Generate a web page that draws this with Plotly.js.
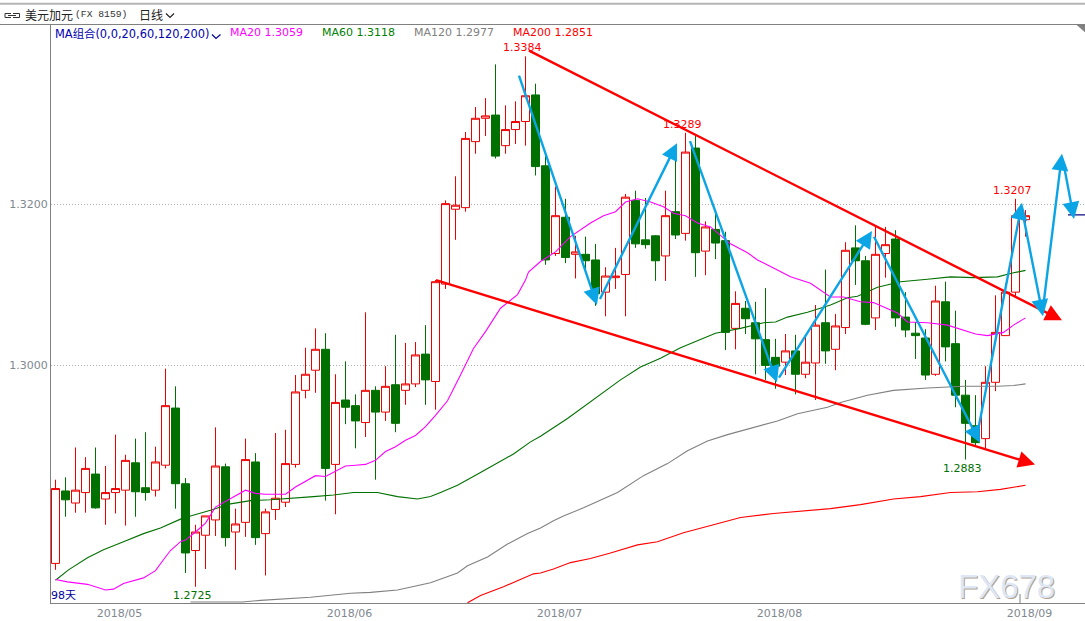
<!DOCTYPE html>
<html>
<head>
<meta charset="utf-8">
<script src="https://cdn.plot.ly/plotly-3.0.1.min.js"></script>
<style>html,body{margin:0;padding:0;background:#fff;overflow:hidden}</style>
</head>
<body>
<div id="chart" style="width:1085px;height:621px"></div>
<script>
// ---- daily bars: USD/CAD, 98 sessions
var opens = [1.2754,1.2844,1.2829,1.2842,1.2865,1.2834,1.2842,1.2845,1.2879,1.2848,1.2845,1.2876,1.2947,1.2853,1.2770,1.2789,1.2808,1.2874,1.2793,1.2805,1.2880,1.2791,1.2821,1.2830,1.2877,1.2969,1.2994,1.3020,1.2877,1.2957,1.2950,1.2929,1.2969,1.2942,1.2976,1.2969,1.2977,1.3014,1.2980,1.3101,1.3194,1.3196,1.3278,1.3307,1.3311,1.3273,1.3293,1.3303,1.3336,1.3248,1.3139,1.3184,1.3138,1.3138,1.3131,1.3091,1.3109,1.3113,1.3205,1.3156,1.3161,1.3136,1.3191,1.3164,1.3270,1.3142,1.3169,1.3155,1.3046,1.3071,1.3053,1.3032,1.3010,1.3004,1.3018,1.2989,1.3003,1.3053,1.3020,1.3047,1.3146,1.3130,1.3059,1.3139,1.3157,1.3060,1.3040,1.3034,1.2989,1.3079,1.3027,1.2963,1.2925,1.2909,1.2979,1.3037,1.3091,1.3181];
var highs = [1.2858,1.2861,1.2898,1.2886,1.2898,1.2875,1.2914,1.2889,1.2909,1.2917,1.2899,1.2996,1.2974,1.2860,1.2802,1.2813,1.2923,1.2878,1.2822,1.2909,1.2891,1.2822,1.2916,1.2920,1.2988,1.3022,1.3046,1.3040,1.2989,1.3005,1.2964,1.3066,1.2974,1.2999,1.3038,1.3028,1.3029,1.3050,1.3106,1.3205,1.3235,1.3290,1.3321,1.3332,1.3374,1.3323,1.3328,1.3384,1.3350,1.3261,1.3222,1.3207,1.3161,1.3160,1.3151,1.3122,1.3146,1.3213,1.3217,1.3208,1.3162,1.3217,1.3258,1.3289,1.3285,1.3179,1.3193,1.3166,1.3092,1.3080,1.3079,1.3096,1.3033,1.3039,1.3038,1.3038,1.3075,1.3119,1.3064,1.3153,1.3174,1.3136,1.3173,1.3172,1.3168,1.3091,1.3054,1.3045,1.3099,1.3104,1.3068,1.2982,1.2963,1.2999,1.3087,1.3102,1.3207,1.3193];
var lows = [1.2746,1.2812,1.2817,1.2817,1.2822,1.2802,1.2816,1.2801,1.2812,1.2832,1.2837,1.2872,1.2822,1.2742,1.2725,1.2747,1.2788,1.2775,1.2746,1.2787,1.2777,1.2739,1.2808,1.2824,1.2873,1.2959,1.2966,1.2832,1.2815,1.2927,1.2897,1.2911,1.2858,1.2931,1.2917,1.2951,1.2973,1.2951,1.2945,1.3095,1.3156,1.3191,1.3263,1.3285,1.3257,1.3263,1.3275,1.3273,1.3236,1.3125,1.3136,1.3127,1.3108,1.3116,1.3074,1.3061,1.3095,1.3061,1.3146,1.3145,1.3105,1.3105,1.3157,1.3155,1.3110,1.3112,1.3132,1.3019,1.3020,1.3039,1.2989,1.2982,1.2971,1.2988,1.2964,1.2984,1.2957,1.3002,1.2994,1.3039,1.3100,1.3050,1.3044,1.3109,1.3048,1.3035,1.3008,1.2982,1.2987,1.3005,1.2948,1.2883,1.2899,1.2897,1.2968,1.3037,1.3085,1.3160];
var closes = [1.2847,1.2833,1.2845,1.2872,1.2823,1.2842,1.2847,1.2882,1.2843,1.2842,1.2880,1.2950,1.2853,1.2767,1.2793,1.2813,1.2875,1.2786,1.2803,1.2883,1.2786,1.2818,1.2835,1.2878,1.2967,1.2989,1.3020,1.2872,1.2954,1.2948,1.2931,1.2969,1.2942,1.2974,1.2928,1.2977,1.3013,1.2982,1.3104,1.3201,1.3199,1.3282,1.3307,1.3310,1.3260,1.3293,1.3303,1.3335,1.3247,1.3131,1.3186,1.3134,1.3141,1.3130,1.3089,1.3111,1.3111,1.3209,1.3151,1.3150,1.3130,1.3186,1.3162,1.3265,1.3140,1.3172,1.3152,1.3041,1.3077,1.3058,1.3033,1.3000,1.2999,1.3018,1.2989,1.3004,1.3050,1.3018,1.3049,1.3143,1.3130,1.3051,1.3138,1.3150,1.3059,1.3044,1.3037,1.2988,1.3080,1.3023,1.2963,1.2928,1.2904,1.2979,1.3041,1.3091,1.3186,1.3186];

// ---- moving averages at bar positions
var ma20Bars = [0,1.2,3.2,5,5.8,6.8,8.8,10,11,11.5,12.5,13,14,15,16,17,18,19,20,21,22,23,24,25,26,27,28,29,30,31,32,33,34,35,36,37,38,39.2,40.5,41.8,43,44.5,46.2,47,47.3,48.5,50,51.5,53.5,54.8,56,57,58.2,59.5,60.8,61.8,63,64.2,65.5,66.7,67.5,69.2,70.2,71.8,73.5,75.5,76.5,77.5,78.8,80.5,81.8,82.8,84.2,85.2,87.2,89.2,90.8,92,93.2,94.8,95.8,97];
var ma20Vals = [1.2734,1.2731,1.2728,1.2721,1.2722,1.2729,1.2736,1.2745,1.2762,1.2770,1.2781,1.2783,1.2793,1.2804,1.2824,1.2831,1.2838,1.2845,1.2841,1.2840,1.2840,1.2840,1.2849,1.2856,1.2863,1.2862,1.2868,1.2875,1.2876,1.2877,1.2882,1.2893,1.2899,1.2907,1.2913,1.2924,1.2938,1.2956,1.2988,1.3021,1.3042,1.3071,1.3088,1.3106,1.3116,1.3129,1.3141,1.3160,1.3177,1.3186,1.3191,1.3203,1.3207,1.3203,1.3197,1.3189,1.3186,1.3177,1.3172,1.3160,1.3151,1.3140,1.3131,1.3121,1.3110,1.3102,1.3094,1.3085,1.3085,1.3079,1.3078,1.3073,1.3065,1.3054,1.3053,1.3050,1.3044,1.3039,1.3037,1.3041,1.3050,1.3059];
var ma60Bars = [0,1.3,3.2,4.8,6.8,8.8,10.5,11.5,12.5,13.5,15.5,17.5,19.5,21.5,24.2,25.8,27.8,29.8,32.2,34.2,36.2,37.5,38.5,40.2,42.5,45.8,47.5,48.5,51.2,53.8,56.5,58.5,60.5,62.5,64.5,66,68.5,70.8,72,73.2,75.2,77.5,79.2,80.2,82.2,84.5,87.2,89.5,91.8,94.2,95.8,97];
var ma60Vals = [1.2733,1.2746,1.2761,1.2771,1.2781,1.2791,1.2798,1.2804,1.2809,1.2813,1.2820,1.2828,1.2832,1.2833,1.2835,1.2837,1.2839,1.2842,1.2842,1.2837,1.2834,1.2837,1.2842,1.2851,1.2867,1.2890,1.2905,1.2912,1.2934,1.2957,1.2982,1.2998,1.3009,1.3022,1.3032,1.3040,1.3046,1.3053,1.3054,1.3060,1.3066,1.3075,1.3084,1.3086,1.3097,1.3104,1.3107,1.3110,1.3109,1.3110,1.3115,1.3118];
var ma120Bars = [13.5,18.7,20.5,23.5,25.5,29.5,31.5,34.2,37.5,40.2,41.2,43.2,45.2,47.2,48.5,49.8,50.8,52.8,56.2,58.8,61.2,63.2,65.2,67.2,69.8,72.2,74.2,77.2,78.5,81.2,83.8,87.2,90.8,94.2,95.8,97];
var ma120Vals = [1.2706,1.2706,1.2708,1.2710,1.2712,1.2717,1.2718,1.2721,1.2730,1.2742,1.2751,1.2762,1.2778,1.2791,1.2798,1.2807,1.2813,1.2823,1.2842,1.2863,1.2878,1.2894,1.2906,1.2914,1.2923,1.2931,1.2940,1.2948,1.2954,1.2963,1.2969,1.2972,1.2974,1.2974,1.2975,1.2977];
var ma200Bars = [41.2,42.5,44.8,47.8,48.5,49.8,51.5,53.5,55.5,58.2,60.2,62.8,65.8,68.5,71.8,74.5,77.5,80.5,83.8,86.5,89.5,92.2,94.5,97];
var ma200Vals = [1.2705,1.2714,1.2725,1.2741,1.2742,1.2747,1.2755,1.2760,1.2767,1.2777,1.2781,1.2792,1.2802,1.2811,1.2816,1.2819,1.2822,1.2827,1.2834,1.2837,1.2842,1.2843,1.2846,1.2851];

// ---- hand-drawn trend arrows on the original chart (bar position, price)
var blueFromBar = [46.05,54.15,63.15,72.05,81.55,92.05,96.55,98.65,100.65];
var blueFromVal = [1.3371,1.3075,1.3289,1.2979,1.3167,1.2906,1.3200,1.3061,1.3261];
var blueToBar   = [54.15,62.15,72.15,81.65,92.45,96.65,98.75,100.65,101.85];
var blueToVal   = [1.3075,1.3276,1.2979,1.3167,1.2904,1.3202,1.3061,1.3263,1.3182];
var redFromBar = [47.05,37.75];
var redFromVal = [1.3393,1.3107];
var redToBar   = [100.65,97.95];
var redToVal   = [1.3056,1.2877];

// ---- labels
var yTickVals = [1.30,1.32];
var monthBars = [6.4,29.4,50.4,72.4,97.4];
var monthLabels = ['2018/05','2018/06','2018/07','2018/08','2018/09'];
var extremeBars = [47,63,96,14,91];
var extremeVals = [1.3384,1.3289,1.3207,1.2725,1.2883];
var lastPrice = 1.3187;

var W = 1085, H = 621, L = 51, T = 25, R = 0, B = 18;
var UI = 'DejaVu Sans', CJK = '"Noto Sans CJK SC"';
function px(x){ return (x - L) / (W - L - R); }
function py(y){ return 1 - (y - T) / (H - T - B); }

var bars = opens.map(function(_, i){ return i; });

var traces = [
  {type:'scatter', mode:'lines', x:ma200Bars, y:ma200Vals, line:{color:'#ff0000', width:1.1}},
  {type:'scatter', mode:'lines', x:ma120Bars, y:ma120Vals, line:{color:'#808080', width:1.1}},
  {type:'scatter', mode:'lines', x:ma60Bars,  y:ma60Vals,  line:{color:'#007000', width:1.1}},
  {type:'candlestick', x:bars, open:opens, high:highs, low:lows, close:closes, whiskerwidth:0,
   increasing:{line:{color:'#ee0000', width:1}, fillcolor:'#ffffff'},
   decreasing:{line:{color:'#007000', width:1}, fillcolor:'#007000'}},
  {type:'scatter', mode:'lines', x:ma20Bars,  y:ma20Vals,  line:{color:'#ff00ff', width:1.1}},
  {type:'scatter', mode:'lines', x:[101.25,103], y:[lastPrice,lastPrice], line:{color:'#000080', width:1.2}}
];

var annotations = [];
function textAt(x, y, text, size, color, family){
  annotations.push({xref:'paper', yref:'paper', x:px(x), y:py(y), xanchor:'left', yanchor:'middle',
    showarrow:false, text:text, borderpad:0, borderwidth:0,
    font:{size:size, color:color, family:family || UI}});
}
textAt(25, 15, '美元加元', 12, '#222222', CJK);
textAt(75, 15, '(FX 8159)', 9.7, '#333333', 'Liberation Mono');
textAt(139, 15, '日线', 12, '#222222', CJK);
textAt(55, 33, 'MA<span style="font-family:\'Noto Sans CJK SC\'">组合</span>(0,0,20,60,120,200)', 11.4, '#0000b0');
textAt(230, 33, 'MA20 1.3059', 11, '#ff00ff');
textAt(322, 33, 'MA60 1.3118', 11, '#008000');
textAt(414, 33, 'MA120 1.2977', 11, '#808080');
textAt(513, 33, 'MA200 1.2851', 11, '#ff0000');
textAt(51, 594, '98<span style="font-family:\'Noto Sans CJK SC\'">天</span>', 11, '#0000a0');

// watermark
annotations.push({xref:'paper', yref:'paper', x:px(1006), y:py(586), xanchor:'center', yanchor:'middle',
  showarrow:false, text:'FX678',
  font:{size:33, color:'#dde7f5', family:'Liberation Sans', shadow:'1px 1px 0 #b0a090'}});

// high / low labels
extremeVals.forEach(function(v, i){
  var above = i < 3;
  annotations.push({x:extremeBars[i], y:v, xref:'x', yref:'y', showarrow:false, text:v.toFixed(4),
    xanchor:'center', yanchor: above ? 'bottom' : 'top', xshift:-3, yshift: above ? 1 : -1, borderpad:0,
    font:{size:11, family:UI, color: above ? '#ff0000' : '#007000'}});
});

// trend arrows
function arrow(x0, y0, x1, y1, color, w, s){
  annotations.push({x:x1, y:y1, ax:x0, ay:y0, xref:'x', yref:'y', axref:'x', ayref:'y', text:' ',
    showarrow:true, arrowhead:2, arrowsize:s, arrowwidth:w, arrowcolor:color, standoff:0, startstandoff:0});
}
redToBar.forEach(function(_, i){ arrow(redFromBar[i], redFromVal[i], redToBar[i], redToVal[i], '#ff0000', 2.4, 1.4); });
blueToBar.forEach(function(_, i){ arrow(blueFromBar[i], blueFromVal[i], blueToBar[i], blueToVal[i], '#0ba5e6', 2.4, 1.4); });

var G = '#808080';
function pline(x0,y0,x1,y1,c,w){ return {type:'line', xref:'paper', yref:'paper', x0:px(x0), y0:py(y0), x1:px(x1), y1:py(y1), line:{color:c, width:w}}; }
function ppath(pts, c, w, fill){
  var d = pts.map(function(p, i){ return (i ? 'L' : 'M') + px(p[0]) + ',' + py(p[1]); }).join(' ');
  if(fill) d += ' Z';
  return {type:'path', xref:'paper', yref:'paper', path:d, line:{color:c, width:w}, fillcolor: fill ? c : 'rgba(0,0,0,0)'};
}
var shapes = [
  pline(0, 3.7, 1085, 3.7, '#b4b4b4', 2),
  pline(0, 24.5, 1085, 24.5, G, 1),
  pline(1020, 594, 1020, 603, G, 1),
  ppath([[1077,25],[1085,25],[1085,32]], G, 0.5, true),
  ppath([[166,13.5],[170,17.5],[174,13.5]], '#222222', 1.2),
  ppath([[212,34.5],[216,38.5],[220.5,34.5]], '#0000a0', 1.2),
  // link icon
  ppath([[11,13.5],[5,13.5],[5,17.5],[11,17.5]], '#333333', 1),
  ppath([[13,13.5],[19.5,13.5],[19.5,17.5],[13,17.5]], '#333333', 1),
  pline(8, 15.5, 16, 15.5, '#333333', 1)
];

var layout = {
  width:W, height:H, margin:{l:L, r:R, t:T, b:B, pad:0},
  paper_bgcolor:'#ffffff', plot_bgcolor:'#ffffff',
  showlegend:false, hovermode:false, dragmode:false, boxgap:0.2, boxgroupgap:0,
  xaxis:{type:'linear', range:[-0.45,102.95], rangeslider:{visible:false}, fixedrange:true,
    tickmode:'array', tickvals:monthBars, ticktext:monthLabels, ticks:'', showgrid:false, zeroline:false,
    showline:true, linecolor:G, linewidth:1,
    tickfont:{size:11, color:'#808890', family:UI}},
  yaxis:{type:'linear', range:[1.27048,1.34229], fixedrange:true,
    tickmode:'array', tickvals:yTickVals, tickformat:'.4f', ticks:'',
    showgrid:true, gridcolor:'#b0b0b0', griddash:'1px,2px', gridwidth:1, zeroline:false,
    showline:true, linecolor:G, linewidth:1,
    tickfont:{size:11, color:'#808890', family:UI}},
  annotations:annotations, shapes:shapes
};
Plotly.newPlot('chart', traces, layout, {staticPlot:true, displayModeBar:false});
</script>
</body>
</html>
